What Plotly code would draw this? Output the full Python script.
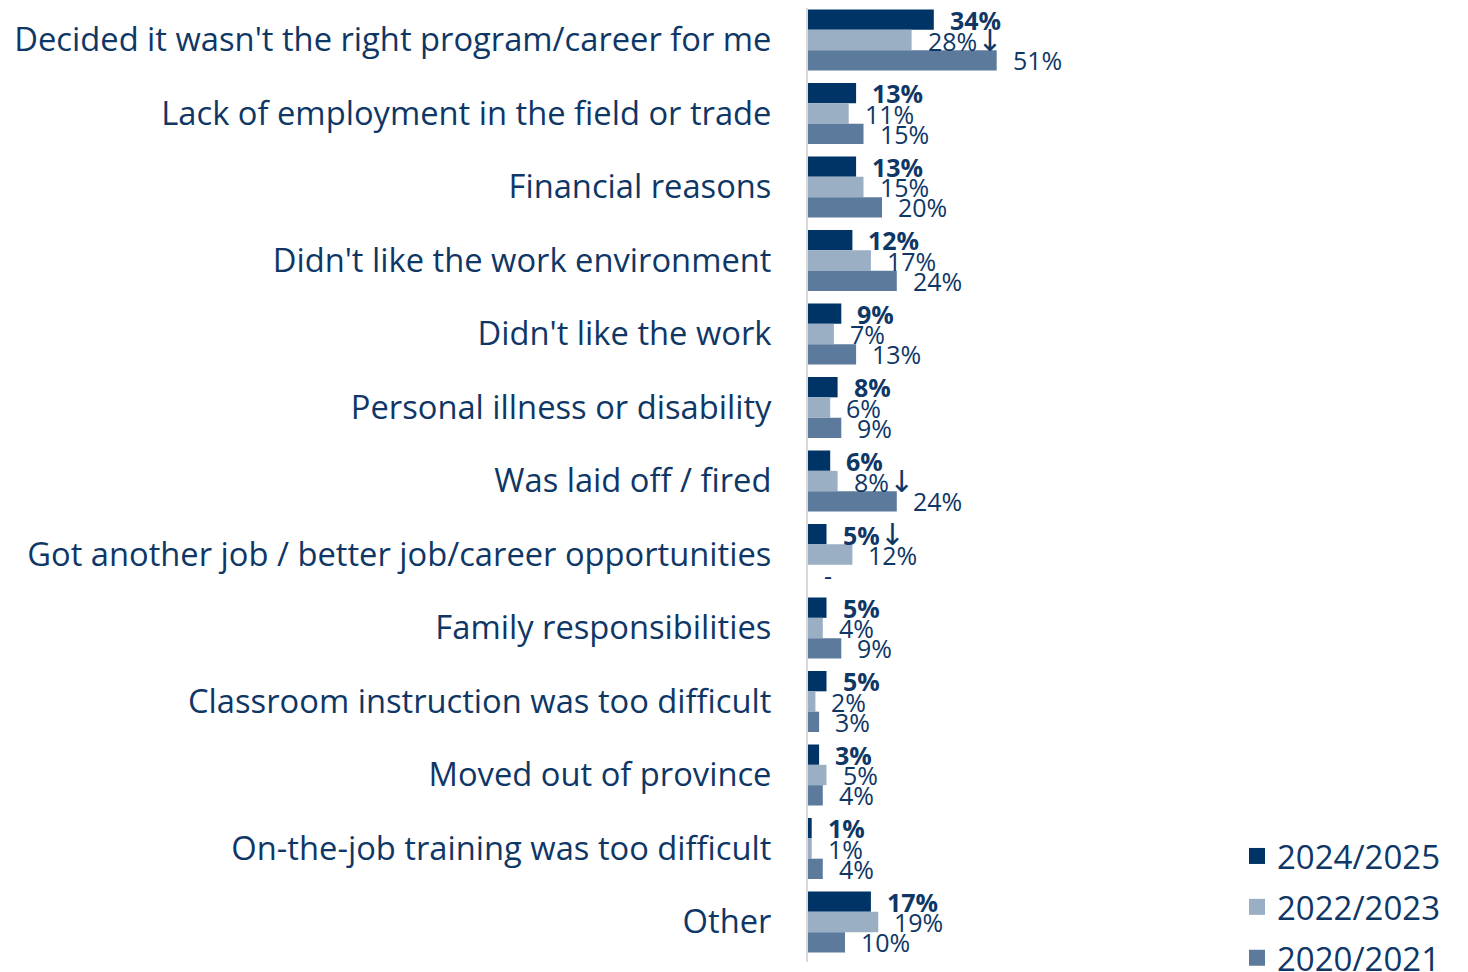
import plotly.graph_objects as go

categories = [
    "Decided it wasn't the right program/career for me",
    "Lack of employment in the field or trade",
    "Financial reasons",
    "Didn't like the work environment",
    "Didn't like the work",
    "Personal illness or disability",
    "Was laid off / fired",
    "Got another job / better job/career opportunities",
    "Family responsibilities",
    "Classroom instruction was too difficult",
    "Moved out of province",
    "On-the-job training was too difficult",
    "Other",
]
series_names = ["2024/2025", "2022/2023", "2020/2021"]
v2024 = [34, 13, 13, 12, 9, 8, 6, 5, 5, 5, 3, 1, 17]
v2022 = [28, 11, 15, 17, 7, 6, 8, 12, 4, 2, 5, 1, 19]
v2020 = [51, 15, 20, 24, 13, 9, 24, None, 9, 3, 4, 4, 10]
# arrows marking significant change (series index, category index)
arrows = {(1, 0), (1, 6), (0, 7)}

colors = ["#003366", "#9AAEC4", "#5B7A9C"]
text_color = "#0F3766"
FONT = "Open Sans"

# the page body adds an 8px margin, so the figure is 8px smaller
W, H = 1460, 964
ml, mr, mt, mb = 800, 10, 0, 10
pw = W - ml - mr
ph = H - mt - mb
px_per_pct = 3.7
bargap = 0.17
band = 73.5           # pixels per category
first_center = 32     # pixel (figure coords) of first category center
barw = band * (1 - bargap) / 3
y_top = -first_center / band
y_bot = (ph - first_center) / band

fig = go.Figure()
all_vals = [v2024, v2022, v2020]
for j, (name, vals) in enumerate(zip(series_names, all_vals)):
    fig.add_trace(go.Bar(
        y=categories,
        x=[0 if v is None else v for v in vals],
        name=name,
        orientation="h",
        marker=dict(color=colors[j], line=dict(width=0)),
        showlegend=False,
        hoverinfo="x+y",
    ))
# legend entries (square swatches)
for j, name in enumerate(series_names):
    fig.add_trace(go.Scatter(
        x=[None], y=[None], mode="markers", name=name,
        marker=dict(symbol="square", size=20, color=colors[j]),
        legendgroup=name, showlegend=True,
    ))

annotations = []
for j, vals in enumerate(all_vals):
    for i, v in enumerate(vals):
        if v is None:
            txt = "-"
            xv = 0
        else:
            txt = f"{v}%"
            xv = v
        if (j, i) in arrows:
            txt += '<span style="font-family:DejaVu Sans;font-size:30px;font-weight:normal">↓</span>'
        if j == 0:
            txt = f"<b>{txt}</b>"
        annotations.append(dict(
            x=xv, y=categories[i], xref="x", yref="y",
            text=txt, showarrow=False, xanchor="left", yanchor="middle",
            xshift=14, yshift=(1 - j) * barw,
            font=dict(family=FONT, size=25, color=text_color),
        ))

fig.update_layout(
    width=W, height=H,
    margin=dict(l=ml, r=mr, t=mt, b=mb, autoexpand=False),
    barmode="group",
    bargap=bargap,
    bargroupgap=0,
    plot_bgcolor="white",
    paper_bgcolor="white",
    font=dict(family=FONT, color=text_color),
    annotations=annotations,
    legend=dict(
        x=(1229 - ml) / pw, xanchor="left",
        y=(ph - 820) / ph, yanchor="top",
        font=dict(family=FONT, size=33, color=text_color),
        tracegroupgap=5,
        traceorder="grouped",
        bgcolor="rgba(0,0,0,0)",
    ),
    showlegend=True,
)
fig.update_xaxes(range=[0, pw / px_per_pct], visible=False)
fig.update_yaxes(
    range=[y_bot, y_top],
    showline=True, linecolor="#D9D9D9", linewidth=2,
    showgrid=False, ticks="",
    ticklabelstandoff=28,
    tickfont=dict(family=FONT, size=32.7, color=text_color),
)

fig.write_html("out.html")
